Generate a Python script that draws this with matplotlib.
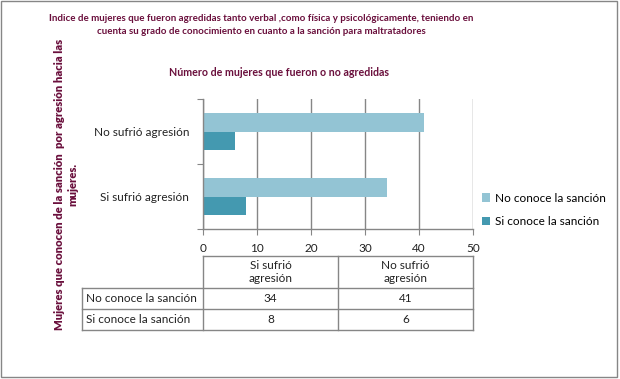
import matplotlib
matplotlib.use("Agg")
import matplotlib.pyplot as plt
from matplotlib.patches import Rectangle
from matplotlib.lines import Line2D

plt.rcParams['font.family'] = ['Lato', 'DejaVu Sans']

categories = ["Si sufrió agresión", "No sufrió agresión"]
col_headers = ["Si sufrió\nagresión", "No sufrió\nagresión"]
series_names = ["No conoce la sanción", "Si conoce la sanción"]
no_conoce = [34, 41]
si_conoce = [8, 6]
xticks = [0, 10, 20, 30, 40, 50]

title = ("Indice de mujeres que fueron agredidas tanto verbal ,como física y psicológicamente, teniendo en\n"
         "cuenta su grado de conocimiento en cuanto a la sanción para maltratadores")
subtitle = "Número de mujeres que fueron o no agredidas"
ylabel = "Mujeres que conocen de la sanción  por agresión hacia las\nmujeres."

W, H = 620, 379
light = '#93C4D4'
dark = '#4499B0'
maroon = '#6A0F3C'
grid = '#868686'

fig = plt.figure(figsize=(W / 100, H / 100), dpi=100)

def fx(x):
    return x / W

def fy(y):
    return 1 - y / H

# outer border
fig.patches.append(Rectangle((fx(1), fy(377)), fx(617) - fx(1), fy(1) - fy(377),
                             transform=fig.transFigure, fill=False, edgecolor=grid, lw=1))

left, right, top, bottom = 203, 473, 99, 229
ax = fig.add_axes([fx(left), fy(bottom), fx(right) - fx(left), fy(top) - fy(bottom)])

pos = list(range(len(categories)))
bh = 0.29
ax.barh([p + bh / 2 for p in pos], no_conoce, height=bh, color=light, label=series_names[0])
ax.barh([p - bh / 2 for p in pos], si_conoce, height=bh, color=dark, label=series_names[1])

ax.set_xlim(0, 50)
ax.set_ylim(-0.5, 1.5)
ax.set_xticks(xticks)
ax.set_xticklabels([str(t) for t in xticks], fontsize=8.5, color='#222222')
ax.set_yticks([-0.5, 0.5, 1.5])
ax.set_yticklabels([])
ax.set_yticks(pos, minor=True)
ax.set_yticklabels(categories, minor=True, fontsize=8.5, color='#222222')
ax.tick_params(axis='y', which='minor', length=0, pad=10)
ax.tick_params(axis='y', which='major', length=4, color=grid)
ax.tick_params(axis='x', length=4, color=grid, pad=6)
ax.grid(axis='x', color=grid, lw=1)
ax.set_axisbelow(True)
for s in ['top', 'right']:
    ax.spines[s].set_visible(False)
for s in ['left', 'bottom']:
    ax.spines[s].set_color(grid)
    ax.spines[s].set_linewidth(1)

# legend
leg = fig.legend(loc='center left', bbox_to_anchor=(fx(471), fy(210)), frameon=False,
                 fontsize=8.5, handlelength=0.7, handleheight=0.7, handletextpad=0.4,
                 labelspacing=1.1)

# titles
fig.text(fx(261), fy(25), title, ha='center', va='center', fontsize=7.0, fontweight='bold',
         color=maroon, linespacing=1.55)
fig.text(fx(279), fy(72), subtitle, ha='center', va='center', fontsize=7.7, fontweight='bold',
         color=maroon)
fig.text(fx(66), fy(184), ylabel, ha='center', va='center', rotation=90, fontsize=8.1,
         fontweight='heavy', color=maroon, linespacing=1.25, multialignment='center')

# data table
tl = dict(color=grid, lw=1, transform=fig.transFigure)
def hline(y, x0, x1):
    fig.add_artist(Line2D([fx(x0), fx(x1)], [fy(y), fy(y)], **tl))
def vline(x, y0, y1):
    fig.add_artist(Line2D([fx(x), fx(x)], [fy(y0), fy(y1)], **tl))

cols = [203, 338, 473]
hline(256, 203, 473)
for y in [288, 309, 330]:
    hline(y, 82, 473)
for x in cols:
    vline(x, 256, 330)
vline(82, 288, 330)

col_centers = [(cols[i] + cols[i + 1]) / 2 for i in range(len(col_headers))]
for cx, h in zip(col_centers, col_headers):
    fig.text(fx(cx), fy(272), h, ha='center', va='center', fontsize=8.5, color='#222222',
             linespacing=1.25)
row_ys = [298.5, 319.5]
for ry, name, vals in zip(row_ys, series_names, [no_conoce, si_conoce]):
    fig.text(fx(86), fy(ry), name, ha='left', va='center', fontsize=8.5, color='#222222')
    for cx, v in zip(col_centers, vals):
        fig.text(fx(cx), fy(ry), str(v), ha='center', va='center', fontsize=8.5, color='#222222')

fig.savefig("out.png", dpi=100)
